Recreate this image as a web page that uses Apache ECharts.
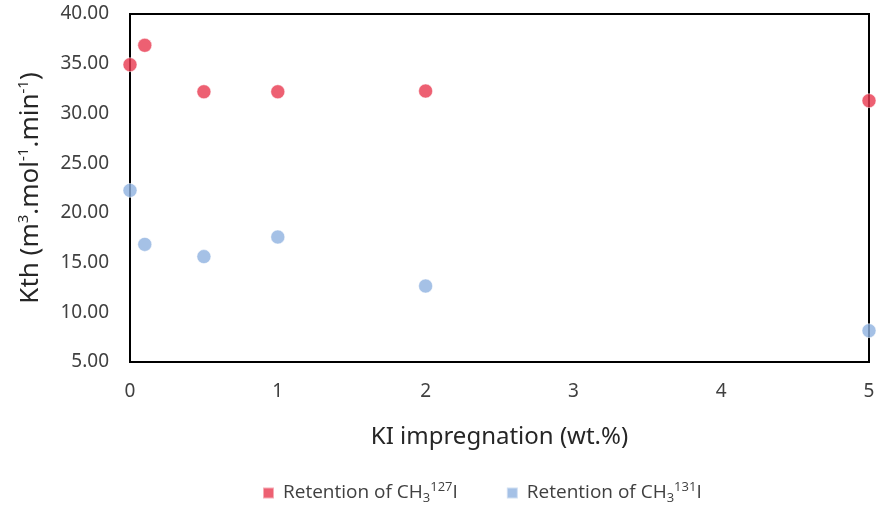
<!DOCTYPE html>
<html><head><meta charset="utf-8">
<script src="https://cdn.jsdelivr.net/npm/echarts@6/dist/echarts.min.js"></script>
<style>html,body{margin:0;padding:0;background:#fff}#c{width:883px;height:507px}</style>
</head><body><div id="c"></div>
<script>
const kiLoading = [0, 0.1, 0.5, 1, 2, 5];
const kth127 = [34.9, 36.85, 32.18, 32.18, 32.25, 31.28];
const kth131 = [22.26, 16.83, 15.6, 17.57, 12.64, 8.15];
const seriesNames = ['Retention of CH3127I', 'Retention of CH3131I'];
const xTicks = [0, 1, 2, 3, 4, 5];
const yTicks = [5, 10, 15, 20, 25, 30, 35, 40];

const font = 'Noto Sans';
const legFont = 'Open Sans';
const chart = echarts.init(document.getElementById('c'), null, {renderer: 'canvas'});
const pair = (xs, ys) => xs.map((x, i) => [x, ys[i]]);
const nameColor = '#262626';
const supRich = {
  n: {fontSize: 26, color: nameColor, fontFamily: font, verticalAlign: 'middle', lineHeight: 30},
  s: {fontSize: 15, color: nameColor, fontFamily: font, verticalAlign: 'top', lineHeight: 19}
};
const legRich = {
  p: {fontSize: 19, color: '#404040', fontFamily: legFont, lineHeight: 24, verticalAlign: 'middle', padding: [0, 0, 0, 4]},
  n: {fontSize: 19, color: '#404040', fontFamily: legFont, lineHeight: 24, verticalAlign: 'middle'},
  s: {fontSize: 13, color: '#404040', fontFamily: legFont, lineHeight: 15, verticalAlign: 'top'},
  b: {fontSize: 13, color: '#404040', fontFamily: legFont, lineHeight: 15, verticalAlign: 'bottom'}
};
chart.setOption({
  animation: false,
  grid: {left: 130, right: 14, top: 14, bottom: 145, show: true, borderColor: '#000', borderWidth: 2},
  legend: {
    bottom: 2, padding: 0, left: 262, itemWidth: 11, itemHeight: 11, itemGap: 48, icon: 'rect',
    data: seriesNames,
    formatter: function (name) {
      return name === seriesNames[0]
        ? '{p|Retention of CH}{b|3}{s|127}{n|I}'
        : '{p|Retention of CH}{b|3}{s|131}{n|I}';
    },
    textStyle: {fontFamily: legFont, fontSize: 19, color: '#404040', rich: legRich}
  },
  xAxis: {
    type: 'value', min: xTicks[0], max: xTicks[xTicks.length - 1], interval: 1,
    name: 'KI impregnation (wt.%)', nameLocation: 'middle', nameGap: 63,
    nameTextStyle: {fontSize: 24, color: nameColor, fontFamily: font},
    axisLine: {show: false}, axisTick: {show: false}, splitLine: {show: false},
    axisLabel: {fontSize: 19, color: '#404040', fontFamily: font, margin: 20}
  },
  yAxis: {
    type: 'value', min: yTicks[0], max: yTicks[yTicks.length - 1], interval: 5,
    name: '{n|Kth (m}{s|3}{n|.mol}{s|-1}{n|.min}{s|-1}{n|)}', nameLocation: 'middle', nameGap: 84,
    nameTextStyle: {fontFamily: font, fontSize: 26, color: nameColor, rich: supRich},
    axisLine: {show: false}, axisTick: {show: false}, splitLine: {show: false},
    axisLabel: {fontSize: 19, color: '#404040', fontFamily: font, margin: 21,
      formatter: v => v.toFixed(2)}
  },
  series: [
    {name: seriesNames[0], type: 'scatter', symbolSize: 14, data: pair(kiLoading, kth127),
      itemStyle: {color: '#E8384F', borderColor: 'rgba(255,255,255,0.6)', borderWidth: 1}},
    {name: seriesNames[1], type: 'scatter', symbolSize: 14, data: pair(kiLoading, kth131),
      itemStyle: {color: '#8EB1E0', borderColor: 'rgba(255,255,255,0.6)', borderWidth: 1}}
  ]
});
</script></body></html>
